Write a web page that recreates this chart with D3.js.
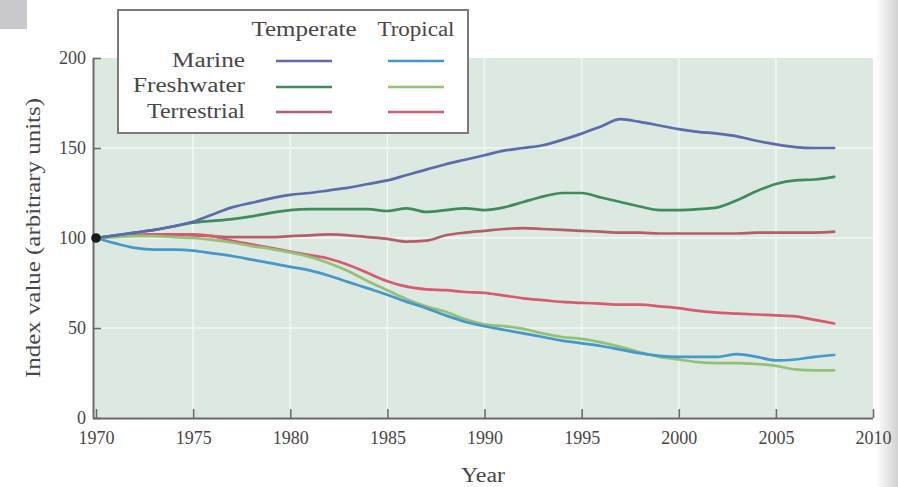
<!DOCTYPE html>
<html>
<head>
<meta charset="utf-8">
<script src="https://cdn.jsdelivr.net/npm/d3@7"></script>
<style>
  html, body { margin: 0; padding: 0; background: #ffffff; }
  svg { display: block; }
  text { font-family: "Liberation Serif", "DejaVu Serif", serif; fill: #474747; }
</style>
</head>
<body>
<svg id="chart" width="898" height="487"></svg>
<script>
// ---------------- DATA ----------------
const years = [1970,1971,1972,1973,1974,1975,1976,1977,1978,1979,
               1980,1981,1982,1983,1984,1985,1986,1987,1988,1989,
               1990,1991,1992,1993,1994,1995,1996,1997,1998,1999,
               2000,2001,2002,2003,2004,2005,2006,2007,2008];

const temperateMarine = [100,101.5,103,104.5,106.5,109,113,117,119.5,122,
                         124,125,126.5,128,130,132,135,138,141,143.5,
                         146,148.5,150,151.5,154.5,158,162,166,164.5,162.5,
                         160.5,159,158,156.5,154,152,150.5,150,150];
const temperateFreshwater = [100,101.5,103,104.5,106.5,108.5,109.5,110.5,112,114,
                             115.5,116,116,116,116,115,116.5,114.5,115.5,116.5,
                             115.5,117,120,123,125,125,122.5,120,117.5,115.5,
                             115.5,116,117,121,126,130,132,132.5,134];
const temperateTerrestrial = [100,101,101.5,102,102,101.5,101,100.5,100.5,100.5,
                              101,101.5,102,101.5,100.5,99.5,98,98.5,101.5,103,
                              104,105,105.5,105,104.5,104,103.5,103,103,102.5,
                              102.5,102.5,102.5,102.5,103,103,103,103,103.5];
const tropicalMarine = [100,97,94.5,93.5,93.5,93,91.5,90,88,86,
                        84,82,79,75.5,72,68.5,64.5,61,57,53.5,
                        51,49,47,45,43,41.5,40,38,36,34.5,
                        34,34,34,35.5,34,32,32.5,34,35];
const tropicalFreshwater = [100,100.5,101,101,100.5,100,99,97.5,95.5,94,
                            92,89.5,86,81.5,76,71,66,62,59,55,
                            52,51,49.5,47,45,44,42,39.5,36.5,34,
                            32.5,31,30.5,30.5,30,29,27,26.5,26.5];
const tropicalTerrestrial = [100,101,101.5,102,102,102,101,98.5,96.5,94.5,
                             92.5,90.5,88.5,85,80.5,76,73,71.5,71,70,
                             69.5,68,66.5,65.5,64.5,64,63.5,63,63,62,
                             61,59.5,58.5,58,57.5,57,56.5,54.5,52.5];

const xTicks = [1970,1975,1980,1985,1990,1995,2000,2005,2010];
const yTicks = [0,50,100,150,200];
const legendRows = ["Marine","Freshwater","Terrestrial"];
const legendCols = ["Temperate","Tropical"];
const startYear = 1970, startValue = 100;

// ---------------- STYLE / LAYOUT ----------------
const colors = {
  temperateMarine: "#5d6bad",
  tropicalMarine: "#4598c8",
  temperateFreshwater: "#3f8a5f",
  tropicalFreshwater: "#93c277",
  temperateTerrestrial: "#b25f6b",
  tropicalTerrestrial: "#d85a72"
};
const seriesList = [
  {key: "temperateTerrestrial", values: temperateTerrestrial},
  {key: "tropicalTerrestrial", values: tropicalTerrestrial},
  {key: "tropicalFreshwater", values: tropicalFreshwater},
  {key: "temperateFreshwater", values: temperateFreshwater},
  {key: "temperateMarine", values: temperateMarine},
  {key: "tropicalMarine", values: tropicalMarine}
];

const svg = d3.select("#chart");
const plot = {left: 93, right: 873, top: 58, bottom: 418};

const x = d3.scaleLinear().domain([1970, 2010]).range([96, 873]);
const y = d3.scaleLinear().domain([0, 200]).range([plot.bottom, plot.top]);

// scan artifacts: grey corner + right page shadow
const defs = svg.append("defs");
const grad = defs.append("linearGradient").attr("id", "shade").attr("x1", "0").attr("x2", "1");
grad.append("stop").attr("offset", "0").attr("stop-color", "#ffffff");
grad.append("stop").attr("offset", "0.4").attr("stop-color", "#ececec");
grad.append("stop").attr("offset", "1").attr("stop-color", "#d2d2d4");
svg.append("rect").attr("x", 876).attr("y", 0).attr("width", 22).attr("height", 487).attr("fill", "url(#shade)");
svg.append("rect").attr("x", 0).attr("y", 0).attr("width", 27).attr("height", 29).attr("fill", "#c9c9cd");

// plot background
svg.append("rect")
  .attr("x", plot.left).attr("y", plot.top)
  .attr("width", plot.right - plot.left).attr("height", plot.bottom - plot.top)
  .attr("fill", "#dce9e0");

// faint white grid
const grid = svg.append("g").attr("stroke", "#f3f8f4").attr("stroke-width", 2).attr("opacity", 0.8);
grid.selectAll("line.v").data(xTicks.slice(1, -1)).join("line")
  .attr("x1", d => x(d)).attr("x2", d => x(d))
  .attr("y1", plot.top).attr("y2", plot.bottom);
grid.selectAll("line.h").data(yTicks.slice(1, -1)).join("line")
  .attr("x1", plot.left).attr("x2", plot.right)
  .attr("y1", d => y(d)).attr("y2", d => y(d));

// axes
const xAxis = d3.axisBottom(x).tickValues(xTicks).tickFormat(d3.format("d"))
  .tickSize(-9).tickSizeOuter(0).tickPadding(13);
const gx = svg.append("g").attr("transform", `translate(0,${plot.bottom})`).call(xAxis);
gx.select(".domain").attr("d", `M${plot.left},0.5H${plot.right}`);

const yAxis = d3.axisLeft(y).tickValues(yTicks).tickSize(-8).tickSizeOuter(0).tickPadding(7);
const gy = svg.append("g").attr("transform", `translate(${plot.left},0)`).call(yAxis);

[gx, gy].forEach(g => {
  g.select(".domain").attr("stroke", "#6a6a6a").attr("stroke-width", 2);
  g.selectAll(".tick line").attr("stroke", "#6a6a6a").attr("stroke-width", 1.6);
  g.selectAll(".tick text").attr("font-size", 18).attr("fill", "#525252")
    .style("font-family", "'Liberation Serif', serif");
});
gy.selectAll(".tick text").attr("dy", "0.3em");

// lines
const line = d3.line()
  .x((d, i) => x(years[i]))
  .y(d => y(d))
  .curve(d3.curveMonotoneX);

svg.append("g").selectAll("path").data(seriesList).join("path")
  .attr("d", s => line(s.values))
  .attr("fill", "none")
  .attr("stroke", s => colors[s.key])
  .attr("stroke-width", 2.7)
  .attr("stroke-linejoin", "round")
  .attr("stroke-linecap", "round");

// starting dot
svg.append("circle")
  .attr("cx", x(startYear)).attr("cy", y(startValue)).attr("r", 4.8)
  .attr("fill", "#1a1a1a");

// axis titles
svg.append("text")
  .attr("transform", `translate(40,${y(100)}) rotate(-90)`)
  .attr("text-anchor", "middle")
  .attr("font-size", 20)
  .attr("textLength", 280).attr("lengthAdjust", "spacingAndGlyphs")
  .text("Index value (arbitrary units)");

svg.append("text")
  .attr("x", 483).attr("y", 482)
  .attr("text-anchor", "middle")
  .attr("font-size", 20)
  .attr("textLength", 44).attr("lengthAdjust", "spacingAndGlyphs")
  .text("Year");

// legend
const lg = svg.append("g");
lg.append("rect")
  .attr("x", 118).attr("y", 10).attr("width", 350).attr("height", 123)
  .attr("fill", "#ffffff").attr("stroke", "#7a7a7a").attr("stroke-width", 2);

const colCenters = [304, 416];
const colWidths = [105, 77];
legendCols.forEach((c, i) => {
  lg.append("text")
    .attr("x", colCenters[i]).attr("y", 36)
    .attr("text-anchor", "middle").attr("font-size", 20)
    .attr("textLength", colWidths[i]).attr("lengthAdjust", "spacingAndGlyphs")
    .text(c);
});
const rowBase = [67, 92, 118];
const rowLineY = [61, 87, 112];
const rowWidths = [73, 112, 98];
const rowKeys = [["temperateMarine","tropicalMarine"],
                 ["temperateFreshwater","tropicalFreshwater"],
                 ["temperateTerrestrial","tropicalTerrestrial"]];
const sampleX = [[276, 332], [388, 444]];
legendRows.forEach((r, i) => {
  lg.append("text")
    .attr("x", 245).attr("y", rowBase[i])
    .attr("text-anchor", "end").attr("font-size", 20)
    .attr("textLength", rowWidths[i]).attr("lengthAdjust", "spacingAndGlyphs")
    .text(r);
  rowKeys[i].forEach((k, j) => {
    lg.append("line")
      .attr("x1", sampleX[j][0]).attr("x2", sampleX[j][1])
      .attr("y1", rowLineY[i]).attr("y2", rowLineY[i])
      .attr("stroke", colors[k]).attr("stroke-width", 2.6);
  });
});
</script>
</body>
</html>
